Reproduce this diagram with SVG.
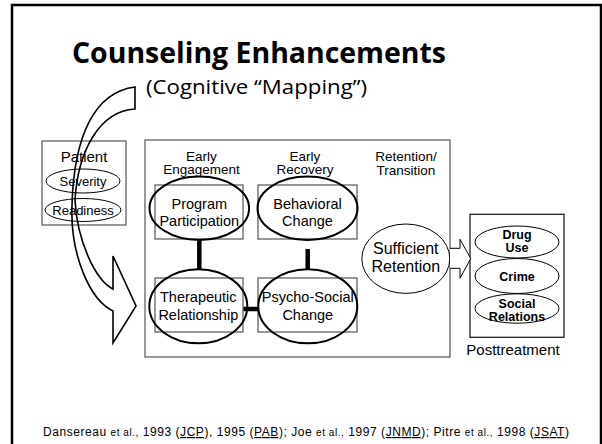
<svg xmlns="http://www.w3.org/2000/svg" width="602" height="444" viewBox="0 0 602 444">
<defs>
<style>
.t{font-family:"Liberation Sans",Arial,sans-serif;fill:#000}
.n{font-size:14.5px;text-anchor:middle}
.h{font-size:13.5px;text-anchor:middle}
.b{font-size:12.5px;font-weight:bold;text-anchor:middle}
.box{fill:none;stroke:#555;stroke-width:1.2}
.big{fill:none;stroke:#000;stroke-width:2}
.thin{fill:none;stroke:#000;stroke-width:1}
.bar{stroke:#000;stroke-width:4.5}
</style>
</defs>
<rect width="602" height="444" fill="#fff"/>
<path d="M12,450 L12,5 L601,5 L601,450" fill="none" stroke="#000" stroke-width="2.5"/>

<g id="title">
<text class="t" x="259" y="63" font-weight="bold" font-size="28" text-anchor="middle" textLength="374" lengthAdjust="spacingAndGlyphs" style="font-family:'Open Sans','Liberation Sans',sans-serif">Counseling Enhancements</text>
<text class="t" x="256.5" y="94" font-size="20" text-anchor="middle" textLength="221" lengthAdjust="spacingAndGlyphs" style="font-family:'Open Sans','Liberation Sans',sans-serif">(Cognitive “Mapping”)</text>
</g>

<g id="patient">
<rect class="box" x="42" y="141" width="84" height="84" stroke="#444"/>
<text class="t" x="84" y="162" font-size="15" text-anchor="middle">Patient</text>
<ellipse class="thin" cx="83" cy="181" rx="37" ry="12"/>
<text class="t" x="83" y="185.5" font-size="13" text-anchor="middle">Severity</text>
<ellipse class="thin" cx="83" cy="210" rx="38" ry="11.5"/>
<text class="t" x="83" y="214.5" font-size="13" text-anchor="middle">Readiness</text>
</g>

<g id="main">
<rect class="box" x="145" y="140" width="305" height="217"/>
<text class="t h" x="201.5" y="160.5">Early</text>
<text class="t h" x="201.5" y="174">Engagement</text>
<text class="t h" x="305" y="160.5">Early</text>
<text class="t h" x="305" y="174">Recovery</text>
<text class="t h" x="406" y="160.5">Retention/</text>
<text class="t h" x="406" y="174.5">Transition</text>
</g>

<g id="program">
<rect class="box" x="155" y="185" width="88" height="54"/>
<ellipse class="big" cx="199.3" cy="208.3" rx="49.8" ry="31.7"/>
<text class="t n" x="199.3" y="208.5">Program</text>
<text class="t n" x="199.3" y="226">Participation</text>
</g>

<g id="behavioral">
<rect class="box" x="258" y="185" width="99" height="54"/>
<ellipse class="big" cx="307.5" cy="208.3" rx="50" ry="31.7"/>
<text class="t n" x="307.5" y="208.5">Behavioral</text>
<text class="t n" x="307.5" y="226">Change</text>
</g>

<g id="therapeutic">
<rect class="box" x="155" y="278" width="88" height="54"/>
<ellipse class="big" cx="198.3" cy="306.3" rx="49" ry="37"/>
<text class="t n" x="198.3" y="301.7">Therapeutic</text>
<text class="t n" x="198.3" y="319.5">Relationship</text>
</g>

<g id="psychosocial">
<rect class="box" x="258" y="278" width="99" height="54"/>
<ellipse class="big" cx="307.8" cy="306.3" rx="49.5" ry="37"/>
<text class="t n" x="307.8" y="301.7">Psycho-Social</text>
<text class="t n" x="307.8" y="319.5">Change</text>
</g>

<g id="retention">
<ellipse class="thin" cx="405.8" cy="258.7" rx="44" ry="34.7"/>
<text class="t" x="405.8" y="254" font-size="16" text-anchor="middle">Sufficient</text>
<text class="t" x="405.8" y="271.7" font-size="16" text-anchor="middle">Retention</text>
</g>

<g id="posttreatment">
<rect x="470" y="214.3" width="94" height="123" fill="none" stroke="#222" stroke-width="1.3"/>
<ellipse class="thin" cx="517" cy="242" rx="42" ry="16"/>
<text class="t b" x="517" y="239">Drug</text>
<text class="t b" x="517" y="252">Use</text>
<ellipse class="thin" cx="517" cy="276" rx="42" ry="17.5"/>
<text class="t b" x="517" y="280.5">Crime</text>
<ellipse class="thin" cx="517" cy="308.5" rx="42" ry="14.7"/>
<text class="t b" x="517" y="307.5">Social</text>
<text class="t b" x="517" y="320.5">Relations</text>
<text class="t" x="513" y="355" font-size="15" text-anchor="middle">Posttreatment</text>
</g>

<g id="connectors">
<line class="bar" x1="199.3" y1="240" x2="199.3" y2="269.5"/>
<line class="bar" x1="307.7" y1="249" x2="307.7" y2="269.5"/>
<line class="bar" x1="243.5" y1="309" x2="259" y2="309"/>
<path d="M450,248.3 L460,248.3 L460,239.3 L470.7,258.5 L460,278.3 L460,268.3 L450,268.3" fill="#fff" stroke="#000" stroke-width="1"/>
<path id="curved-arrow" d="M135,87 C95,92 74,135 72,205 C70,255 90,300 113,311 L113,343 L136,306 L113,256 L113,289 C95,280 77,240 75,200 C78,150 100,111 135,109 Z" fill="none" stroke="#000" stroke-width="1.6" stroke-linejoin="miter"/>
</g>

<g id="footer">
<text class="t" x="43" y="436" font-size="12" textLength="526" lengthAdjust="spacing">Dansereau <tspan font-size="10">et al.,</tspan> 1993 (<tspan text-decoration="underline">JCP</tspan>), 1995 (<tspan text-decoration="underline">PAB</tspan>); Joe <tspan font-size="10">et al.,</tspan> 1997 (<tspan text-decoration="underline">JNMD</tspan>); Pitre <tspan font-size="10">et al.,</tspan> 1998 (<tspan text-decoration="underline">JSAT</tspan>)</text>
</g>
</svg>
